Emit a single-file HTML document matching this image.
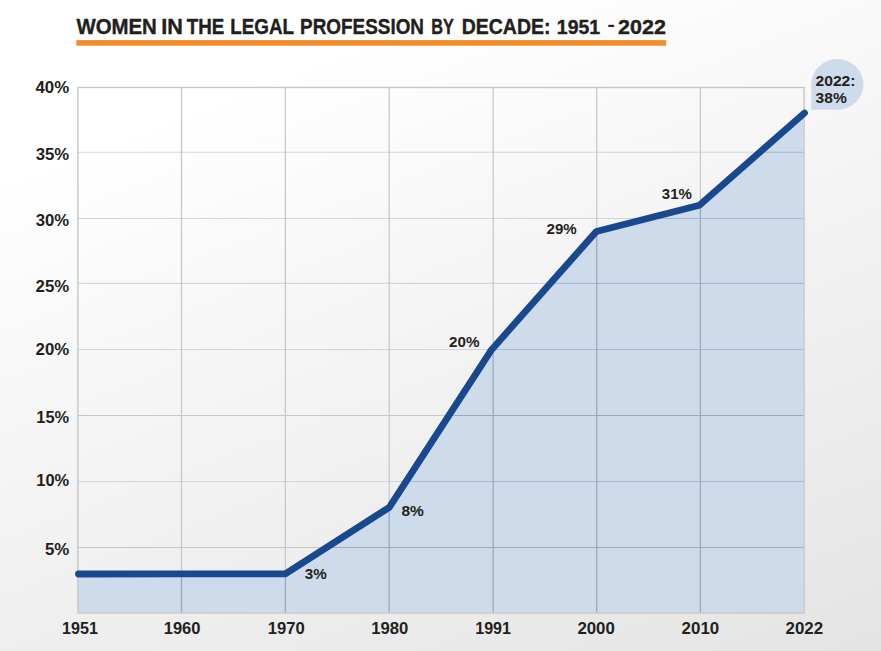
<!DOCTYPE html>
<html lang="en"><head><meta charset="utf-8"><title>Women in the Legal Profession by Decade: 1951 - 2022</title>
<style>
html,body{margin:0;padding:0;}
body{width:881px;height:651px;overflow:hidden;background:#f0f0f0;}
svg{display:block;}
text{font-family:"Liberation Sans",Arial,sans-serif;font-weight:700;fill:#231f20;stroke:#231f20;stroke-linejoin:round;}
</style></head><body>
<svg width="881" height="651" viewBox="0 0 881 651">
<defs>
<linearGradient id="bg" gradientUnits="userSpaceOnUse" x1="0" y1="0" x2="332" y2="873.8">
<stop offset="0" stop-color="#ffffff"/>
<stop offset="0.18" stop-color="#ffffff"/>
<stop offset="0.40" stop-color="rgb(96.9%,96.9%,96.9%)"/>
<stop offset="0.65" stop-color="rgb(93.9%,93.9%,93.9%)"/>
<stop offset="0.925" stop-color="rgb(90.2%,90.2%,90.2%)"/>
<stop offset="1" stop-color="rgb(89.2%,89.2%,89.2%)"/>
</linearGradient>
<clipPath id="ac"><path d="M78.2,612.6 L78.2,574.0 L181.5,573.9 L285.3,573.8 L389.3,507.3 L491.6,349.7 L596.3,231.5 L699.4,205.3 L803.5,113.9 L803.5,612.6 Z"/></clipPath>
</defs>
<rect width="881" height="651" fill="url(#bg)"/>

<rect x="76.3" y="40.1" width="589.9" height="5.6" fill="#f28c28"/>
<g><line x1="77.9" x2="804.1" y1="152.2" y2="152.2" stroke="#ccd6e7" stroke-width="1.1"/><line x1="77.9" x2="804.1" y1="218.5" y2="218.5" stroke="#ccd6e7" stroke-width="1.1"/><line x1="77.9" x2="804.1" y1="283.4" y2="283.4" stroke="#ccd6e7" stroke-width="1.1"/><line x1="77.9" x2="804.1" y1="349.5" y2="349.5" stroke="#ccd6e7" stroke-width="1.1"/><line x1="77.9" x2="804.1" y1="415.5" y2="415.5" stroke="#c7c7c8" stroke-width="1.1"/><line x1="77.9" x2="804.1" y1="481.5" y2="481.5" stroke="#ccd6e7" stroke-width="1.1"/><line x1="77.9" x2="804.1" y1="547.5" y2="547.5" stroke="#c7c7c8" stroke-width="1.1"/><line x1="181.5" x2="181.5" y1="87.5" y2="613.0" stroke="#c7c7c8" stroke-width="1.25"/><line x1="285.4" x2="285.4" y1="87.5" y2="613.0" stroke="#c7c7c8" stroke-width="1.25"/><line x1="389.2" x2="389.2" y1="87.5" y2="613.0" stroke="#c7c7c8" stroke-width="1.25"/><line x1="493.2" x2="493.2" y1="87.5" y2="613.0" stroke="#c7c7c8" stroke-width="1.25"/><line x1="596.7" x2="596.7" y1="87.5" y2="613.0" stroke="#c7c7c8" stroke-width="1.25"/><line x1="700.4" x2="700.4" y1="87.5" y2="613.0" stroke="#c7c7c8" stroke-width="1.25"/></g>
<path d="M78.2,612.6 L78.2,574.0 L181.5,573.9 L285.3,573.8 L389.3,507.3 L491.6,349.7 L596.3,231.5 L699.4,205.3 L803.5,113.9 L803.5,612.6 Z" fill="#cedbeb"/>
<g clip-path="url(#ac)"><line x1="77.9" x2="804.1" y1="152.2" y2="152.2" stroke="#a6b8d1" stroke-width="1.1"/><line x1="77.9" x2="804.1" y1="218.5" y2="218.5" stroke="#a6b8d1" stroke-width="1.1"/><line x1="77.9" x2="804.1" y1="283.4" y2="283.4" stroke="#a6b8d1" stroke-width="1.1"/><line x1="77.9" x2="804.1" y1="349.5" y2="349.5" stroke="#a6b8d1" stroke-width="1.1"/><line x1="77.9" x2="804.1" y1="415.5" y2="415.5" stroke="#9daabb" stroke-width="1.1"/><line x1="77.9" x2="804.1" y1="481.5" y2="481.5" stroke="#a6b8d1" stroke-width="1.1"/><line x1="77.9" x2="804.1" y1="547.5" y2="547.5" stroke="#9daabb" stroke-width="1.1"/><line x1="181.5" x2="181.5" y1="87.5" y2="613.0" stroke="#9ba8b9" stroke-width="1.25"/><line x1="285.4" x2="285.4" y1="87.5" y2="613.0" stroke="#9ba8b9" stroke-width="1.25"/><line x1="389.2" x2="389.2" y1="87.5" y2="613.0" stroke="#9ba8b9" stroke-width="1.25"/><line x1="493.2" x2="493.2" y1="87.5" y2="613.0" stroke="#9ba8b9" stroke-width="1.25"/><line x1="596.7" x2="596.7" y1="87.5" y2="613.0" stroke="#9ba8b9" stroke-width="1.25"/><line x1="700.4" x2="700.4" y1="87.5" y2="613.0" stroke="#9ba8b9" stroke-width="1.25"/></g>
<rect x="77.9" y="87.5" width="726.2" height="525.5" fill="none" stroke="#c5c5c6" stroke-width="1.35"/>
<path d="M811.2,109.8 L811.2,84.4 A26.15,25.4 0 1 1 837.35,109.8 Z" fill="#cedbeb"/>
<polyline points="78.5,574.0 181.5,573.9 285.3,573.8 389.3,507.3 491.6,349.7 596.3,231.5 699.4,205.3 804.5,113.0" fill="none" stroke="#18488e" stroke-width="6.8" stroke-linecap="round" stroke-linejoin="round"/>
<text transform="translate(76.44 33.5) scale(0.9576 1)" font-size="21.3" stroke-width="0.4">WOMEN</text>
<text transform="translate(161.24 33.5) scale(1.0142 1)" font-size="21.3" stroke-width="0.4">IN</text>
<text transform="translate(186.78 33.5) scale(0.8819 1)" font-size="21.3" stroke-width="0.4">THE</text>
<text transform="translate(230.23 33.5) scale(0.8849 1)" font-size="21.3" stroke-width="0.4">LEGAL</text>
<text transform="translate(300.12 33.5) scale(0.8873 1)" font-size="21.3" stroke-width="0.4">PROFESSION</text>
<text transform="translate(431.20 33.5) scale(0.7640 1)" font-size="21.3" stroke-width="0.4">BY</text>
<text transform="translate(461.68 33.5) scale(0.9149 1)" font-size="21.3" stroke-width="0.4">DECADE:</text>
<text transform="translate(556.80 33.5) scale(0.9577 1)" font-size="20.3415" stroke-width="0.4">1951</text>
<text transform="translate(607.43 31.0) scale(1.2620 1)" font-size="17.5" stroke-width="0.1">-</text>
<text transform="translate(618.07 33.5) scale(1.0560 1)" font-size="20.3415" stroke-width="0.4">2022</text>
<text transform="translate(35.45 92.7) scale(1.0107 1)" font-size="16.7" stroke-width="0">40%</text>
<text transform="translate(35.72 159.7) scale(1.0023 1)" font-size="16.7" stroke-width="0">35%</text>
<text transform="translate(35.72 225.7) scale(1.0023 1)" font-size="16.7" stroke-width="0">30%</text>
<text transform="translate(35.53 291.7) scale(1.0081 1)" font-size="16.7" stroke-width="0">25%</text>
<text transform="translate(35.53 354.7) scale(1.0081 1)" font-size="16.7" stroke-width="0">20%</text>
<text transform="translate(36.36 422.7) scale(0.9832 1)" font-size="16.7" stroke-width="0">15%</text>
<text transform="translate(36.36 485.7) scale(0.9832 1)" font-size="16.7" stroke-width="0">10%</text>
<text transform="translate(44.90 554.7) scale(1.0092 1)" font-size="16.7" stroke-width="0">5%</text>
<text transform="translate(61.97 634.1) scale(1.0346 1)" font-size="15.6" stroke-width="0">1951</text>
<text transform="translate(163.74 634.1) scale(1.0586 1)" font-size="15.6" stroke-width="0">1960</text>
<text transform="translate(267.63 634.1) scale(1.0677 1)" font-size="15.6" stroke-width="0">1970</text>
<text transform="translate(371.23 634.1) scale(1.0677 1)" font-size="15.6" stroke-width="0">1980</text>
<text transform="translate(475.17 634.1) scale(1.0346 1)" font-size="15.6" stroke-width="0">1991</text>
<text transform="translate(577.39 634.1) scale(1.0776 1)" font-size="15.6" stroke-width="0">2000</text>
<text transform="translate(681.59 634.1) scale(1.0836 1)" font-size="15.6" stroke-width="0">2010</text>
<text transform="translate(785.49 634.1) scale(1.0836 1)" font-size="15.6" stroke-width="0">2022</text>
<text transform="translate(304.73 579) scale(0.9947 1)" font-size="15.3" stroke-width="0">3%</text>
<text transform="translate(401.49 516) scale(1.0147 1)" font-size="15.3" stroke-width="0">8%</text>
<text transform="translate(449.10 347) scale(0.9937 1)" font-size="15.3" stroke-width="0">20%</text>
<text transform="translate(546.51 234.2) scale(0.9869 1)" font-size="15.3" stroke-width="0">29%</text>
<text transform="translate(661.83 199.2) scale(0.9828 1)" font-size="15.3" stroke-width="0">31%</text>
<text transform="translate(815.49 85.6) scale(1.0236 1)" font-size="15.3" stroke-width="0">2022:</text>
<text transform="translate(815.62 102.8) scale(1.0164 1)" font-size="15.3" stroke-width="0">38%</text>
</svg></body></html>
